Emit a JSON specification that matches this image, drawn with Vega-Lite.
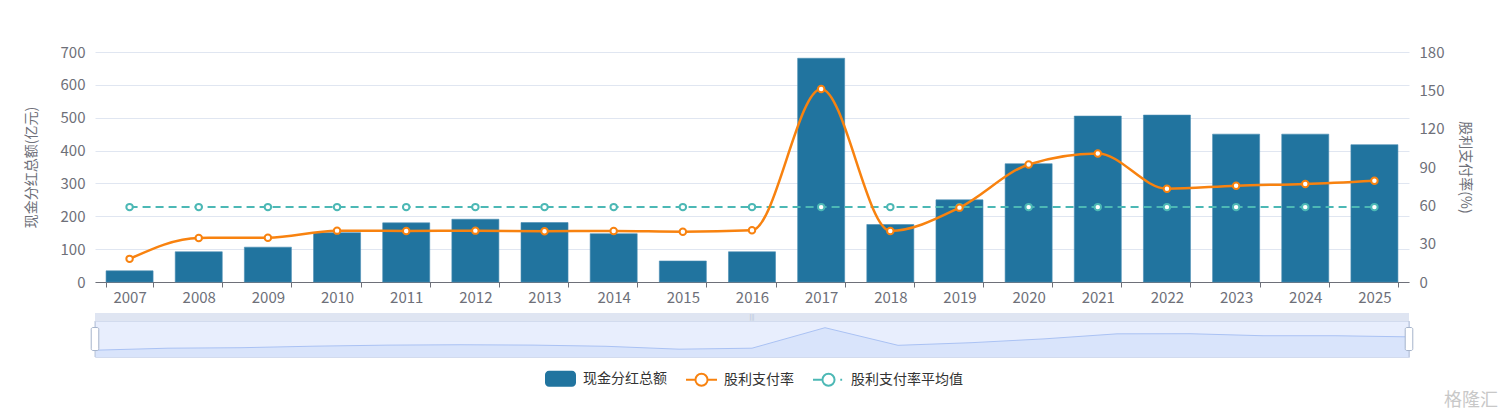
{
  "$schema": "https://vega.github.io/schema/vega-lite/v6.json",
  "background": "#ffffff",
  "padding": {"left": 24, "top": 45, "right": 5, "bottom": 5},
  "title": {
    "text": "格隆汇",
    "orient": "bottom",
    "anchor": "end",
    "frame": "group",
    "color": "#c8c8c8",
    "fontSize": 18,
    "fontWeight": "normal",
    "offset": 1,
    "dx": 89
  },
  "config": {
    "font": "Noto Sans CJK SC",
    "view": {"stroke": null},
    "axis": {
      "labelColor": "#6e7079",
      "labelFontSize": 15,
      "titleColor": "#6e7079",
      "titleFontSize": 14,
      "titleFontWeight": "normal"
    }
  },
  "data": {
    "values": [
      {"year": "2007", "amount": 34, "ratio": 18.1, "avg": 58.6},
      {"year": "2008", "amount": 92, "ratio": 34.5, "avg": 58.6},
      {"year": "2009", "amount": 106, "ratio": 34.7, "avg": 58.6},
      {"year": "2010", "amount": 150, "ratio": 40.2, "avg": 58.6},
      {"year": "2011", "amount": 180, "ratio": 40.0, "avg": 58.6},
      {"year": "2012", "amount": 191, "ratio": 40.2, "avg": 58.6},
      {"year": "2013", "amount": 181, "ratio": 39.7, "avg": 58.6},
      {"year": "2014", "amount": 147, "ratio": 40.0, "avg": 58.6},
      {"year": "2015", "amount": 64, "ratio": 39.4, "avg": 58.6},
      {"year": "2016", "amount": 92, "ratio": 40.5, "avg": 58.6},
      {"year": "2017", "amount": 681, "ratio": 151.1, "avg": 58.6},
      {"year": "2018", "amount": 175, "ratio": 40.0, "avg": 58.6},
      {"year": "2019", "amount": 250, "ratio": 58.2, "avg": 58.6},
      {"year": "2020", "amount": 360, "ratio": 92.0, "avg": 58.6},
      {"year": "2021", "amount": 505, "ratio": 100.6, "avg": 58.6},
      {"year": "2022", "amount": 508, "ratio": 73.0, "avg": 58.6},
      {"year": "2023", "amount": 450, "ratio": 75.4, "avg": 58.6},
      {"year": "2024", "amount": 450, "ratio": 76.7, "avg": 58.6},
      {"year": "2025", "amount": 418, "ratio": 79.3, "avg": 58.6}
    ]
  },
  "spacing": 31,
  "bounds": "flush",
  "resolve": {"scale": {"x": "independent", "y": "independent"}},
  "vconcat": [
    {
      "width": 1314,
      "height": 230,
      "encoding": {
        "x": {
          "field": "year",
          "type": "ordinal",
          "scale": {"paddingInner": 0.32, "paddingOuter": 0.16},
          "axis": {
            "title": null,
            "labelAngle": 0,
            "domainColor": "#6e7079",
            "tickColor": "#6e7079",
            "tickSize": 5,
            "tickBand": "extent",
            "labelPadding": 3,
            "grid": false
          }
        }
      },
      "layer": [
        {
          "mark": {"type": "bar", "fill": "#21749f", "stroke": "#4a8db3", "strokeWidth": 0.6},
          "encoding": {
            "y": {
              "field": "amount",
              "type": "quantitative",
              "scale": {"domain": [0, 700], "nice": false},
              "axis": {
                "orient": "left",
                "values": [0, 100, 200, 300, 400, 500, 600, 700],
                "grid": true,
                "gridColor": "#e0e6f1",
                "domain": false,
                "ticks": false,
                "labelPadding": 10,
                "title": "现金分红总额(亿元)",
                "titlePadding": 22
              }
            }
          }
        },
        {
          "encoding": {
            "y": {
              "type": "quantitative",
              "scale": {"domain": [0, 180], "nice": false},
              "axis": {
                "orient": "right",
                "values": [0, 30, 60, 90, 120, 150, 180],
                "grid": false,
                "domain": false,
                "ticks": false,
                "labelPadding": 10,
                "title": "股利支付率(%)",
                "titlePadding": 14
              }
            }
          },
          "layer": [
            {
              "mark": {"type": "line", "color": "#4cb8b5", "strokeWidth": 2, "strokeDash": [8, 5]},
              "encoding": {"y": {"field": "avg"}}
            },
            {
              "mark": {"type": "point", "filled": false, "stroke": "#4cb8b5", "fill": "#ffffff", "fillOpacity": 1, "opacity": 1, "size": 42, "strokeWidth": 2},
              "encoding": {"y": {"field": "avg"}}
            },
            {
              "mark": {"type": "line", "color": "#f8820f", "strokeWidth": 2.5, "interpolate": "monotone"},
              "encoding": {"y": {"field": "ratio"}}
            },
            {
              "mark": {"type": "point", "filled": false, "stroke": "#f8820f", "fill": "#ffffff", "fillOpacity": 1, "opacity": 1, "size": 42, "strokeWidth": 2},
              "encoding": {"y": {"field": "ratio"}}
            },
            {
              "mark": {"type": "point", "opacity": 0, "strokeWidth": 2, "size": 961},
              "encoding": {
                "y": {"field": "ratio"},
                "fill": {
                  "datum": "现金分红总额",
                  "type": "nominal",
                  "scale": {
                    "domain": ["现金分红总额", "股利支付率", "股利支付率平均值"],
                    "range": ["#21749f", "#ffffff", "#ffffff"]
                  },
                  "legend": {
                    "title": null,
                    "orient": "none",
                    "direction": "horizontal",
                    "legendX": 449,
                    "legendY": 310,
                    "padding": 0,
                    "symbolSize": 961,
                    "symbolOpacity": 1,
                    "symbolStrokeWidth": 2,
                    "labelFontSize": 14,
                    "labelColor": "#333333",
                    "labelOffset": 6,
                    "columnPadding": 15
                  }
                },
                "stroke": {
                  "datum": "现金分红总额",
                  "type": "nominal",
                  "scale": {
                    "domain": ["现金分红总额", "股利支付率", "股利支付率平均值"],
                    "range": ["transparent", "#f8820f", "#4cb8b5"]
                  },
                  "legend": {
                    "title": null,
                    "orient": "none",
                    "direction": "horizontal",
                    "legendX": 449,
                    "legendY": 310,
                    "padding": 0,
                    "symbolSize": 961,
                    "symbolOpacity": 1,
                    "symbolStrokeWidth": 2,
                    "labelFontSize": 14,
                    "labelColor": "#333333",
                    "labelOffset": 6,
                    "columnPadding": 15
                  }
                },
                "shape": {
                  "datum": "现金分红总额",
                  "type": "nominal",
                  "scale": {
                    "domain": ["现金分红总额", "股利支付率", "股利支付率平均值"],
                    "range": [
                      "M-0.74,-0.52H0.74A0.26,0.26 0 0 1 1,-0.26V0.26A0.26,0.26 0 0 1 0.74,0.52H-0.74A0.26,0.26 0 0 1 -1,0.26V-0.26A0.26,0.26 0 0 1 -0.74,-0.52Z",
                      "M-1,0H-0.39M0.39,0H1M0.39,0A0.39,0.39 0 1 1 -0.39,0A0.39,0.39 0 1 1 0.39,0Z",
                      "M-1,0H-0.45M0.76,0H0.88M0.39,0A0.39,0.39 0 1 1 -0.39,0A0.39,0.39 0 1 1 0.39,0Z"
                    ]
                  },
                  "legend": {
                    "title": null,
                    "orient": "none",
                    "direction": "horizontal",
                    "legendX": 449,
                    "legendY": 310,
                    "padding": 0,
                    "symbolSize": 961,
                    "symbolOpacity": 1,
                    "symbolStrokeWidth": 2,
                    "labelFontSize": 14,
                    "labelColor": "#333333",
                    "labelOffset": 6,
                    "columnPadding": 15
                  }
                }
              }
            }
          ]
        }
      ],
      "resolve": {"scale": {"y": "independent"}}
    },
    {
      "spacing": 0,
      "bounds": "flush",
      "vconcat": [
        {
          "width": 1314,
          "height": 8,
          "view": {"fill": "#dfe5f2", "stroke": null},
          "data": {"values": [{}]},
          "mark": {"type": "text", "text": "|||", "fontSize": 6, "color": "#a9b5cc"},
          "encoding": {}
        },
        {
          "width": 1314,
          "height": 36,
          "view": {"fill": "#e8eefd", "stroke": "#d2dbee"},
          "encoding": {
            "x": {"field": "year", "type": "ordinal", "scale": {"type": "point", "padding": 0}, "axis": null}
          },
          "layer": [
            {
              "mark": {"type": "area", "color": "#d3dffa", "line": {"color": "#aac2f4", "strokeWidth": 1}},
              "encoding": {
                "y": {"field": "amount", "type": "quantitative", "scale": {"domain": [-161, 874], "nice": false, "zero": false}, "axis": null},
                "y2": {"datum": -161}
              }
            },
            {
              "transform": [{"filter": "datum.year === '2007' || datum.year === '2025'"}],
              "mark": {"type": "rule", "color": "#b8c4da", "strokeWidth": 1},
              "encoding": {}
            },
            {
              "transform": [{"filter": "datum.year === '2007' || datum.year === '2025'"}],
              "mark": {
                "type": "point",
                "shape": "M-0.33,-0.85A0.15,0.15 0 0 1 -0.18,-1H0.18A0.15,0.15 0 0 1 0.33,-0.85V0.85A0.15,0.15 0 0 1 0.18,1H-0.18A0.15,0.15 0 0 1 -0.33,0.85Z",
                "size": 529,
                "filled": true,
                "fill": "#ffffff",
                "fillOpacity": 1,
                "opacity": 1,
                "stroke": "#a5b3cb",
                "strokeWidth": 1
              },
              "encoding": {"y": {"datum": 356, "type": "quantitative"}}
            }
          ]
        }
      ]
    }
  ]
}
